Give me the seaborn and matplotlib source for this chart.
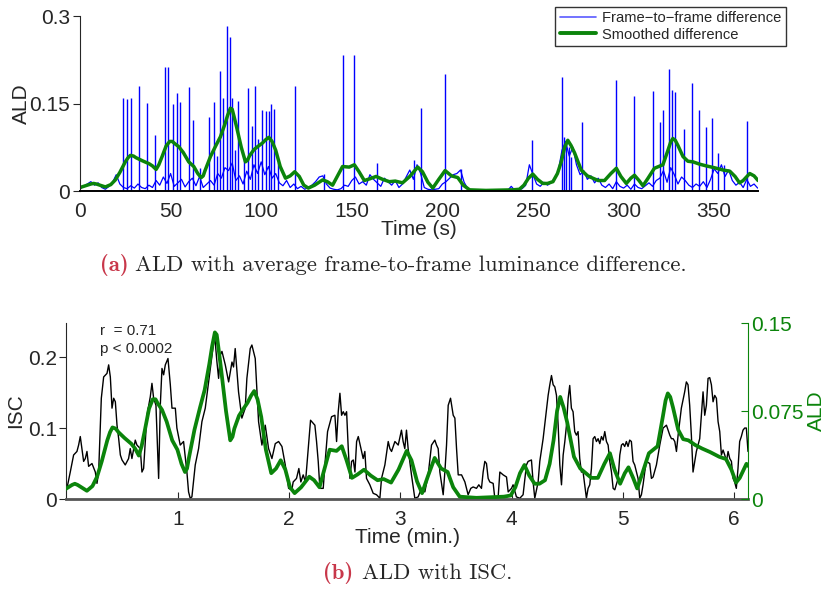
import numpy as np
import pandas as pd
import matplotlib
matplotlib.use("Agg")
import matplotlib.pyplot as plt
import seaborn as sns

# --- (a) frame-to-frame luminance difference, sampled every 2 s ---
frame_t = np.arange(0, 375, 2)
frame_base = [
    0.004, 0.008, 0.012, 0.016, 0.010, 0.014, 0.006, 0.003, 0.008, 0.015,
    0.028, 0.012, 0.006, 0.004, 0.009, 0.005, 0.012, 0.006, 0.004, 0.010,
    0.006, 0.018, 0.010, 0.024, 0.013, 0.030, 0.008, 0.014, 0.020, 0.007,
    0.016, 0.022, 0.009, 0.025, 0.006, 0.012, 0.018, 0.010, 0.030, 0.022,
    0.040, 0.035, 0.048, 0.018, 0.026, 0.012, 0.034, 0.020, 0.045, 0.030,
    0.050, 0.028, 0.042, 0.022, 0.030, 0.014, 0.009, 0.018, 0.006, 0.012,
    0.004, 0.008, 0.003, 0.006, 0.010, 0.016, 0.024, 0.026, 0.012, 0.005,
    0.003, 0.002, 0.004, 0.010, 0.008, 0.018, 0.024, 0.012, 0.016, 0.010,
    0.028, 0.020, 0.014, 0.008, 0.022, 0.016, 0.010, 0.018, 0.006, 0.012,
    0.024, 0.036, 0.020, 0.045, 0.030, 0.006, 0.003, 0.002, 0.003, 0.004,
    0.012, 0.016, 0.022, 0.028, 0.030, 0.036, 0.015, 0.004, 0.002, 0.001,
    0.001, 0.001, 0.001, 0.001, 0.001, 0.001, 0.001, 0.001, 0.001, 0.008,
    0.001, 0.002, 0.004, 0.010, 0.045, 0.028, 0.012, 0.008, 0.015, 0.010,
    0.014, 0.022, 0.035, 0.070, 0.085, 0.060, 0.075, 0.045, 0.028, 0.035,
    0.020, 0.026, 0.014, 0.022, 0.010, 0.006, 0.012, 0.004, 0.016, 0.008,
    0.005, 0.010, 0.003, 0.012, 0.006, 0.004, 0.009, 0.014, 0.008, 0.018,
    0.022, 0.035, 0.015, 0.040, 0.028, 0.012, 0.024, 0.018, 0.010, 0.006,
    0.012, 0.008, 0.016, 0.006, 0.020, 0.038, 0.030, 0.045, 0.025, 0.036,
    0.018, 0.010, 0.015, 0.006, 0.020, 0.008, 0.012, 0.005,
]

# scene-cut spikes (time in s, height)
spike_t = [23.6, 26.0, 28.2, 32.6, 37.0, 41.6, 46.8, 48.3, 51.4, 53.4,
           55.1, 60.1, 62.6, 66.0, 71.3, 73.8, 75.5, 77.0, 78.8, 81.2,
           82.9, 84.0, 85.5, 87.3, 90.3, 92.8, 94.7, 96.7, 98.5, 100.6,
           102.4, 104.2, 105.5, 107.2, 109.0, 118.6, 134.5, 145.1, 151.0, 163.9,
           184.5, 188.2, 201.5, 210.3, 249.2, 265.9, 266.9, 268.3, 269.8, 271.1,
           277.0, 295.6, 305.5, 316.4, 319.9, 321.9, 325.0, 326.7, 328.3, 333.3,
           337.6, 341.6, 345.3, 349.0, 352.3, 355.2, 368.3]
spike_h = [0.159, 0.157, 0.159, 0.180, 0.151, 0.096, 0.212, 0.212, 0.150, 0.168,
           0.153, 0.178, 0.122, 0.040, 0.127, 0.152, 0.060, 0.206, 0.160, 0.283,
           0.264, 0.160, 0.070, 0.155, 0.060, 0.176, 0.111, 0.180, 0.090, 0.139,
           0.137, 0.137, 0.150, 0.140, 0.050, 0.180, 0.030, 0.233, 0.233, 0.048,
           0.053, 0.142, 0.200, 0.037, 0.088, 0.196, 0.093, 0.082, 0.076, 0.059,
           0.118, 0.190, 0.163, 0.172, 0.119, 0.139, 0.210, 0.174, 0.170, 0.107,
           0.186, 0.139, 0.110, 0.126, 0.066, 0.045, 0.120]

# smoothed difference (ALD)
smooth_t = [0, 2, 4, 6, 7.5, 9, 10, 12, 14, 17, 19.5, 22, 25,
            26.5, 27.8, 29.5, 31, 34.3, 38, 40, 42, 43.5, 45.3, 47.5, 49.5, 51, 52, 54.5,
            57, 60, 62.8, 65, 66.9, 68, 69, 72, 75, 77.5, 80, 81.5,
            83, 84, 85, 86.4, 89, 91.3, 92.5, 93.5, 96, 98, 100.6, 102.5, 104.2,
            106, 108, 110.5, 113.4, 116, 118.5, 121, 123.5, 126, 129.5,
            133.9, 136.5, 139.4, 142, 144.9, 148.6, 151.4, 154, 156.9, 160,
            163.4, 167, 170.7, 174, 178, 182, 186.4, 189, 192, 194.7,
            198, 201.5, 205, 208.5, 211.5, 215, 224, 238.8, 242.5, 245,
            247.5, 249.9, 252.5, 255.4, 258, 261, 263.5, 265.6, 267.5, 269.2,
            271, 273, 276.6, 280, 283, 286, 289.5, 293, 296, 298.5,
            301.5, 304, 306, 308.5, 310.7, 313.5, 317, 321.7, 324.5, 326, 327.2,
            328.5, 330, 332.8, 335.5, 338.3, 342, 345.7, 350, 354.9, 358.6, 361.5,
            364, 366, 369.6, 372, 374.2]
smooth_v = [0.006, 0.008, 0.010, 0.012, 0.013, 0.012, 0.011, 0.009, 0.007, 0.011, 0.019, 0.032, 0.050,
            0.057, 0.061, 0.060, 0.057, 0.052, 0.047, 0.043, 0.037, 0.045, 0.059, 0.077, 0.085, 0.085, 0.082, 0.076,
            0.066, 0.050, 0.042, 0.030, 0.023, 0.026, 0.035, 0.059, 0.078, 0.093, 0.115, 0.130,
            0.142, 0.140, 0.128, 0.110, 0.075, 0.050, 0.053, 0.060, 0.071, 0.076, 0.082, 0.088, 0.092,
            0.085, 0.070, 0.042, 0.022, 0.026, 0.033, 0.025, 0.010, 0.005, 0.010,
            0.019, 0.016, 0.010, 0.025, 0.042, 0.041, 0.045, 0.033, 0.018, 0.021,
            0.025, 0.020, 0.016, 0.017, 0.014, 0.025, 0.041, 0.033, 0.015, 0.005,
            0.020, 0.035, 0.026, 0.023, 0.010, 0.002, 0.001, 0.002, 0.003, 0.010,
            0.022, 0.029, 0.020, 0.013, 0.013, 0.016, 0.030, 0.050, 0.075, 0.087,
            0.078, 0.065, 0.036, 0.026, 0.022, 0.018, 0.018, 0.030, 0.039, 0.025,
            0.013, 0.022, 0.027, 0.018, 0.009, 0.022, 0.039, 0.045, 0.070, 0.084, 0.090,
            0.087, 0.078, 0.059, 0.051, 0.050, 0.046, 0.043, 0.040, 0.036, 0.034, 0.025,
            0.014, 0.018, 0.030, 0.026, 0.018]

# --- (b) inter-subject correlation ---
isc_min = [0.004, 0.034, 0.064, 0.094, 0.109, 0.124, 0.139, 0.154, 0.169, 0.184,
           0.199, 0.229, 0.259, 0.274, 0.289, 0.313, 0.334, 0.364, 0.379, 0.394,
           0.409, 0.424, 0.439, 0.454, 0.469, 0.484, 0.499, 0.528, 0.558, 0.573,
           0.588, 0.618, 0.633, 0.663, 0.678, 0.693, 0.723, 0.753, 0.768, 0.783,
           0.804, 0.828, 0.843, 0.858, 0.873, 0.888, 0.912, 0.933, 0.948, 0.978,
           0.992, 1.022, 1.052, 1.082, 1.097, 1.112, 1.127, 1.157, 1.187, 1.217,
           1.247, 1.277, 1.307, 1.331, 1.352, 1.367, 1.382, 1.397, 1.427, 1.457,
           1.487, 1.501, 1.516, 1.546, 1.576, 1.606, 1.621, 1.651, 1.666, 1.696,
           1.726, 1.756, 1.786, 1.816, 1.846, 1.876, 1.906, 1.936, 1.966, 1.996,
           2.025, 2.037, 2.067, 2.088, 2.106, 2.127, 2.148, 2.172, 2.193, 2.232,
           2.247, 2.262, 2.277, 2.307, 2.322, 2.346, 2.382, 2.412, 2.427, 2.442,
           2.457, 2.472, 2.487, 2.502, 2.517, 2.532, 2.547, 2.562, 2.577, 2.592,
           2.607, 2.622, 2.646, 2.666, 2.681, 2.696, 2.726, 2.756, 2.786, 2.816,
           2.831, 2.861, 2.891, 2.906, 2.921, 2.951, 2.981, 3.010, 3.025, 3.040,
           3.055, 3.070, 3.100, 3.130, 3.160, 3.190, 3.220, 3.250, 3.280, 3.310,
           3.325, 3.340, 3.355, 3.385, 3.400, 3.415, 3.430, 3.451, 3.475, 3.490,
           3.505, 3.520, 3.550, 3.580, 3.609, 3.633, 3.654, 3.684, 3.705, 3.729,
           3.744, 3.759, 3.774, 3.789, 3.804, 3.834, 3.849, 3.879, 3.894, 3.924,
           3.954, 3.969, 3.999, 4.013, 4.043, 4.073, 4.103, 4.133, 4.148, 4.178,
           4.193, 4.208, 4.238, 4.253, 4.283, 4.307, 4.328, 4.343, 4.358, 4.373,
           4.388, 4.403, 4.418, 4.433, 4.448, 4.463, 4.478, 4.493, 4.508, 4.522,
           4.537, 4.552, 4.567, 4.582, 4.597, 4.612, 4.627, 4.642, 4.657, 4.672,
           4.687, 4.702, 4.717, 4.732, 4.747, 4.762, 4.777, 4.792, 4.807, 4.822,
           4.837, 4.852, 4.867, 4.882, 4.897, 4.912, 4.927, 4.957, 4.972, 4.987,
           5.001, 5.016, 5.031, 5.046, 5.061, 5.076, 5.091, 5.106, 5.136, 5.151,
           5.166, 5.181, 5.196, 5.211, 5.241, 5.256, 5.271, 5.301, 5.331, 5.361,
           5.391, 5.421, 5.436, 5.451, 5.466, 5.481, 5.496, 5.525, 5.555, 5.570,
           5.585, 5.600, 5.615, 5.630, 5.645, 5.660, 5.690, 5.720, 5.735, 5.750,
           5.765, 5.780, 5.795, 5.810, 5.825, 5.840, 5.855, 5.870, 5.885, 5.900,
           5.915, 5.930, 5.945, 5.960, 5.975, 5.990, 6.004, 6.019, 6.034, 6.049,
           6.064, 6.079, 6.094, 6.109, 6.124]
isc_val = [0.015, 0.038, 0.062, 0.067, 0.076, 0.088, 0.071, 0.053, 0.057, 0.067,
           0.046, 0.050, 0.038, 0.022, 0.038, 0.142, 0.172, 0.177, 0.189, 0.172,
           0.128, 0.142, 0.137, 0.104, 0.085, 0.062, 0.055, 0.048, 0.057, 0.071,
           0.057, 0.083, 0.076, 0.071, 0.038, 0.043, 0.118, 0.144, 0.163, 0.142,
           0.132, 0.029, 0.132, 0.184, 0.175, 0.189, 0.198, 0.161, 0.128, 0.128,
           0.100, 0.076, 0.081, 0.038, 0.010, 0.001, 0.003, 0.048, 0.071, 0.109,
           0.128, 0.165, 0.203, 0.231, 0.193, 0.170, 0.203, 0.208, 0.189, 0.165,
           0.193, 0.186, 0.212, 0.151, 0.114, 0.128, 0.170, 0.212, 0.217, 0.198,
           0.109, 0.076, 0.104, 0.071, 0.057, 0.078, 0.081, 0.074, 0.048, 0.015,
           0.013, 0.024, 0.029, 0.043, 0.024, 0.034, 0.024, 0.071, 0.111, 0.104,
           0.081, 0.053, 0.015, 0.015, 0.048, 0.095, 0.116, 0.118, 0.081, 0.123,
           0.149, 0.118, 0.123, 0.118, 0.123, 0.071, 0.029, 0.053, 0.055, 0.038,
           0.081, 0.088, 0.071, 0.057, 0.067, 0.029, 0.020, 0.008, 0.006, 0.001,
           0.029, 0.048, 0.081, 0.071, 0.067, 0.081, 0.076, 0.097, 0.081, 0.071,
           0.097, 0.071, 0.034, 0.001, 0.003, 0.015, 0.010, 0.034, 0.076, 0.083,
           0.076, 0.071, 0.038, 0.006, 0.038, 0.076, 0.132, 0.142, 0.118, 0.114,
           0.071, 0.034, 0.034, 0.024, 0.006, 0.015, 0.017, 0.015, 0.020, 0.015,
           0.038, 0.053, 0.050, 0.029, 0.024, 0.022, 0.001, 0.003, 0.038, 0.034,
           0.031, 0.010, 0.015, 0.020, 0.003, 0.001, 0.006, 0.048, 0.053, 0.055,
           0.024, 0.001, 0.024, 0.053, 0.085, 0.118, 0.146, 0.161, 0.174, 0.161,
           0.158, 0.146, 0.104, 0.048, 0.020, 0.062, 0.081, 0.104, 0.142, 0.160,
           0.128, 0.123, 0.095, 0.090, 0.095, 0.057, 0.038, 0.038, 0.020, 0.001,
           0.015, 0.020, 0.043, 0.085, 0.088, 0.081, 0.085, 0.078, 0.088, 0.083,
           0.095, 0.081, 0.076, 0.053, 0.038, 0.015, 0.013, 0.029, 0.062, 0.076,
           0.078, 0.074, 0.081, 0.074, 0.083, 0.081, 0.053, 0.048, 0.029, 0.001,
           0.006, 0.020, 0.038, 0.053, 0.050, 0.029, 0.031, 0.048, 0.076, 0.100,
           0.104, 0.090, 0.085, 0.085, 0.081, 0.067, 0.090, 0.128, 0.151, 0.165,
           0.161, 0.132, 0.090, 0.038, 0.053, 0.067, 0.085, 0.151, 0.118, 0.132,
           0.170, 0.171, 0.161, 0.137, 0.146, 0.142, 0.109, 0.095, 0.062, 0.069,
           0.062, 0.053, 0.067, 0.057, 0.053, 0.029, 0.024, 0.015, 0.043, 0.081,
           0.088, 0.097, 0.100, 0.100, 0.067]
ald_lag_s = 3  # ALD shifted to align with ISC

isc_ticks = [0, 0.1, 0.2]
ald_ticks = [0, 0.075, 0.15]

green = "#0b840b"
blue = "#0000ff"

sns.set_style("ticks")
plt.rcParams["font.family"] = ["Liberation Sans", "DejaVu Sans"]
plt.rcParams["axes.linewidth"] = 0.8

fig = plt.figure(figsize=(8.29, 5.89), dpi=100)

# ---------- panel (a) ----------
ax_a = fig.add_axes([0.0965, 0.6757, 0.8179, 0.2971])
frame_df = pd.DataFrame({"t": frame_t, "ald": frame_base})
smooth_df = pd.DataFrame({"t": smooth_t, "ald": smooth_v})
sns.lineplot(data=frame_df, x="t", y="ald", ax=ax_a, color=blue, lw=0.9,
             estimator=None, label="Frame\u2212to\u2212frame difference")
ax_a.vlines(spike_t, 0, spike_h, color=blue, lw=1.0)
sns.lineplot(data=smooth_df, x="t", y="ald", ax=ax_a, color=green, lw=2.5,
             estimator=None, label="Smoothed difference")
ax_a.set_xlim(0, 374.2)
ax_a.set_ylim(0, 0.3)
ax_a.set_xticks(range(0, 351, 50))
ax_a.set_yticks([0, 0.15, 0.3])
ax_a.set_yticklabels(["0", "0.15", "0.3"])
sns.despine(ax=ax_a)
ax_a.spines["bottom"].set_linewidth(1.4)
ax_a.spines["bottom"].set_color("black")
ax_a.tick_params(axis="y", direction="out", length=5, labelsize=15, pad=2)
ax_a.tick_params(axis="x", direction="in", length=0, labelsize=15, pad=8)
ax_a.set_xlabel("Time (s)", fontsize=15, labelpad=-1)
ax_a.set_ylabel("ALD", fontsize=15, labelpad=-1)
leg = ax_a.legend(loc="upper right", bbox_to_anchor=(786 / 829, 1 - 7 / 589),
                  bbox_transform=fig.transFigure, fontsize=10.6, frameon=True,
                  fancybox=False, edgecolor="black", borderpad=0.3,
                  labelspacing=0.15, handlelength=2.5, handletextpad=0.4,
                  borderaxespad=0)
leg.get_frame().set_linewidth(1.0)
leg.legend_handles[0].set_color("#5a5aff")
leg.legend_handles[0].set_linewidth(1.2)
leg.legend_handles[1].set_linewidth(2.8)

# ---------- panel (b) ----------
ax_b = fig.add_axes([0.0802, 0.1528, 0.8221, 0.2988])
isc_df = pd.DataFrame({"minutes": isc_min, "isc": isc_val})
sns.lineplot(data=isc_df, x="minutes", y="isc", ax=ax_b, color="black",
             lw=1.0, estimator=None)
ax_b.set_xlim(0, 6.124)
ax_b.set_ylim(0, 0.248)
ax_b.set_xticks([1, 2, 3, 4, 5, 6])
ax_b.set_yticks(isc_ticks)
ax_b.set_yticklabels(["0", "0.1", "0.2"])
ax_b.tick_params(axis="y", direction="out", length=5, labelsize=15, pad=2)
ax_b.tick_params(axis="x", direction="in", length=5, labelsize=15, pad=8)
ax_b.set_xlabel("Time (min.)", fontsize=15, labelpad=-1)
ax_b.set_ylabel("ISC", fontsize=15, labelpad=2)
ax_b.spines["top"].set_visible(False)
ax_b.spines["right"].set_visible(False)
ax_b.spines["bottom"].set_color("#555555")
ax_b.spines["bottom"].set_linewidth(2.0)
ax_b.text(0.049, 0.955, "r  = 0.71", transform=ax_b.transAxes,
          fontsize=11, va="center", ha="left")
ax_b.text(0.049, 0.855, "p < 0.0002", transform=ax_b.transAxes,
          fontsize=11, va="center", ha="left")

ax_r = ax_b.twinx()
ald_df = pd.DataFrame({"minutes": (np.array(smooth_t) - ald_lag_s) / 60.0,
                       "ald": smooth_v})
sns.lineplot(data=ald_df, x="minutes", y="ald", ax=ax_r, color=green, lw=2.7,
             estimator=None)
ax_r.set_xlim(0, 6.124)
ax_r.set_ylim(0, 0.15)
ax_r.set_yticks(ald_ticks)
ax_r.set_yticklabels(["0", "0.075", "0.15"])
for side in ["top", "left", "bottom"]:
    ax_r.spines[side].set_visible(False)
ax_r.spines["right"].set_color(green)
ax_r.tick_params(axis="y", direction="in", length=5, labelsize=15,
                 colors=green, pad=2)
ax_r.set_ylabel("ALD", fontsize=15, color=green, labelpad=3)

# ---------- captions ----------
cap_red = "#c8374a"
cap_size = 16.3
fig.text(129 / 829, 1 - 265 / 589, "(a)", fontfamily="cmb10", fontsize=cap_size,
         color=cap_red, ha="right", va="center")
fig.text(135 / 829, 1 - 265 / 589,
         "ALD with average frame-to-frame luminance difference.",
         fontfamily="cmr10", fontsize=cap_size, ha="left", va="center")
fig.text(353 / 829, 1 - 573 / 589, "(b)", fontfamily="cmb10", fontsize=cap_size,
         color=cap_red, ha="right", va="center")
fig.text(362 / 829, 1 - 573 / 589, "ALD with ISC.",
         fontfamily="cmr10", fontsize=cap_size, ha="left", va="center")

fig.savefig("out.png", dpi=100)
